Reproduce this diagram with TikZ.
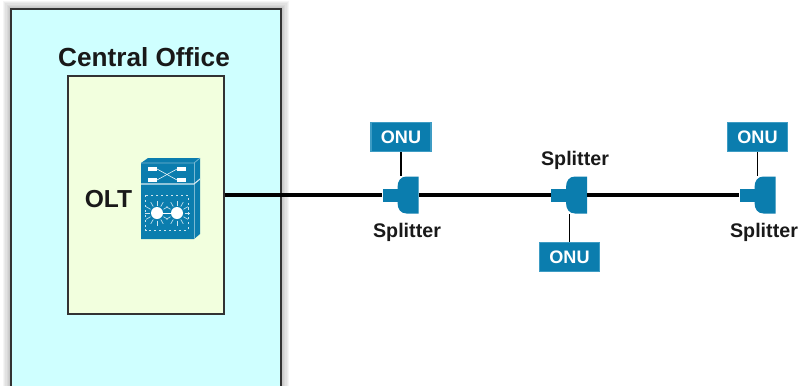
\documentclass[tikz,border=0pt]{standalone}
\usepackage{fontspec}
\setmainfont{Liberation Sans}
\definecolor{officecyan}{HTML}{CFFFFF}
\definecolor{oltgreen}{HTML}{F2FFDE}
\definecolor{ciscoblue}{HTML}{0B7DAE}
\definecolor{ciscoedge}{HTML}{3D9CC4}
\tikzset{
    boxframe/.style = {draw = black!80, line width = 0.8pt, inner sep = 0pt},
    onubox/.style = {fill = ciscoblue, draw = ciscoedge, line width = 0.8pt, minimum width = 1.2cm, minimum height = 0.58cm, inner sep = 0pt, text = white, font = \bfseries\fontsize{10.3}{12}\selectfont},
    splitlabel/.style = {font = \bfseries\fontsize{11.2}{13}\selectfont, text = black!90},
    splitpart/.style = {inner sep = 0pt, fill = ciscoblue},
    fibre/.style = {line width = 2.1pt, black},
    drop/.style = {line width = 0.9pt, black}
}
% stem and body of one splitter, all on the fibre line
\newcommand{\splitter}[2]{
    \node[splitpart, minimum width = 0.3cm, minimum height = 0.26cm, anchor = east] (#1stem) at (#2-0.2,3.8) {};
    \node[inner sep = 0pt, minimum width = 0.42cm, minimum height = 0.74cm] (#1body) at (#2,3.8) {};
    \fill[ciscoblue] (#2+0.21,4.17) -- (#2-0.03,4.17) .. controls (#2-0.15,4.17) and (#2-0.21,4.08) .. (#2-0.21,3.95) -- (#2-0.21,3.65) .. controls (#2-0.21,3.52) and (#2-0.15,3.43) .. (#2-0.03,3.43) -- (#2+0.21,3.43) -- cycle;
}
\begin{document}
\begin{tikzpicture}
    \useasboundingbox (0,0) rectangle (16,7.7);
    % soft edge round the office
    \foreach \w in {2,3.5,...,9.5}
        \draw[line width = \w pt, black, opacity = 0.04] (0.22,-0.1) rectangle (5.62,7.52);
    \node[boxframe, fill = officecyan, minimum width = 5.4cm, minimum height = 7.62cm] (office) at (2.92,3.71) {};
    \node[boxframe, fill = oltgreen, minimum width = 3.12cm, minimum height = 4.76cm] (oltbox) at (2.92,3.8) {};
    \node[font = \bfseries\fontsize{14.9}{17}\selectfont, text = black!90] (officelabel) at (2.88,6.56) {Central Office};
    \node[font = \bfseries\fontsize{14}{16}\selectfont, text = black!90] (oltlabel) at (2.17,3.72) {OLT};
    % the OLT chassis
    \fill[ciscoblue] (2.82,4.44) -- (2.96,4.54) -- (4.0,4.54) -- (4.0,3.02) -- (3.88,2.92) -- (2.82,2.92) -- cycle;
    \draw[white!45!ciscoblue, line width = 0.4pt] (2.82,4.44) -- (3.88,4.44) -- (4.0,4.54);
    \draw[white!45!ciscoblue, line width = 0.4pt] (3.88,4.44) -- (3.88,2.92);
    \draw[white!85!ciscoblue, line width = 0.6pt] (2.82,4.02) -- (3.88,4.02) -- (4.0,4.12);
    \fill[white] (2.96,4.28) rectangle (3.14,4.36);
    \fill[white] (2.96,4.06) rectangle (3.14,4.14);
    \fill[white] (3.54,4.28) rectangle (3.72,4.36);
    \fill[white] (3.54,4.06) rectangle (3.72,4.14);
    \draw[white, line width = 0.3pt] (3.14,4.32) -- (3.54,4.1);
    \draw[white, line width = 0.3pt] (3.14,4.1) -- (3.54,4.32);
    \draw[white!80!ciscoblue, line width = 0.4pt, dash pattern = on 1.2pt off 1.6pt] (2.9,3.8) rectangle (3.76,3.1);
    \foreach \x in {3.14,3.54}{
        \foreach \a in {0,30,...,330}
            \draw[white!80!ciscoblue, line width = 0.35pt] (\x,3.44) ++(\a:0.15) -- ++(\a:0.1);
        \fill[white] (\x,3.44) circle[radius = 0.12];
    }
    \draw[white, line width = 0.5pt] (3.14,3.44) -- (3.54,3.44);
    % splitters
    \splitter{splita}{8.16}
    \splitter{splitb}{11.53}
    \splitter{splitc}{15.3}
    \node[onubox] (onua) at (8.02,4.96) {ONU};
    \node[onubox] (onub) at (11.39,2.56) {ONU};
    \node[onubox] (onuc) at (15.15,4.96) {ONU};
    \draw[fibre] (oltbox.east) -- (splitastem.west);
    \draw[fibre] (splitabody.east) -- (splitbstem.west);
    \draw[fibre] (splitbbody.east) -- (splitcstem.west);
    \draw[drop] (onua.south) -- (onua.south |- splitabody.north);
    \draw[drop] (onub.north) -- (onub.north |- splitbbody.south);
    \draw[drop] (onuc.south) -- (onuc.south |- splitcbody.north);
    \node[splitlabel] (labela) at (8.14,3.06) {Splitter};
    \node[splitlabel] (labelb) at (11.5,4.5) {Splitter};
    \node[splitlabel] (labelc) at (15.28,3.06) {Splitter};
\end{tikzpicture}
\end{document}
